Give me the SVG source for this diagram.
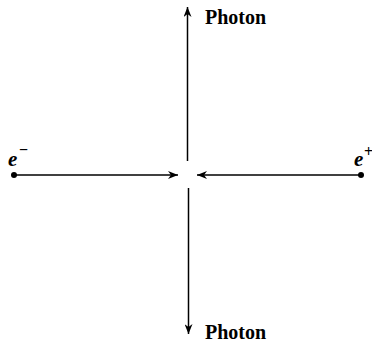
<svg xmlns="http://www.w3.org/2000/svg" width="372" height="345" viewBox="0 0 372 345">
<style>
.ln{stroke:#000;stroke-width:1.5;fill:none}
.lbl{font-family:"Liberation Serif",serif;font-weight:bold;font-size:20px;fill:#000}
.e{font-family:"Liberation Serif",serif;font-weight:bold;font-style:italic;font-size:21px;fill:#000}
.sup{font-family:"Liberation Serif",serif;font-weight:bold;font-size:16px;fill:#000}
</style>
<defs>
<marker id="ah" viewBox="0 0 10 8" refX="10" refY="4" markerWidth="10" markerHeight="8" markerUnits="userSpaceOnUse" orient="auto">
<path d="M0,0 L10,4 L0,8 L3,4 Z" fill="#000"/>
</marker>
</defs>
<g id="connectors">
<line class="ln" x1="14" y1="175" x2="178" y2="175" marker-end="url(#ah)"/>
<line class="ln" x1="361" y1="175" x2="197" y2="175" marker-end="url(#ah)"/>
<line class="ln" x1="187.5" y1="161" x2="187.5" y2="7" marker-end="url(#ah)"/>
<line class="ln" x1="188.5" y1="188" x2="188.5" y2="334" marker-end="url(#ah)"/>
</g>
<g id="e-minus">
<circle cx="14" cy="175" r="3" fill="#000"/>
<text class="e" x="8" y="166">e</text>
<text class="sup" x="19" y="155">−</text>
</g>
<g id="e-plus">
<circle cx="361" cy="175" r="3" fill="#000"/>
<text class="e" x="354" y="166">e</text>
<text class="sup" x="364" y="157">+</text>
</g>
<g id="photon-top">
<text class="lbl" x="205" y="24">Photon</text>
</g>
<g id="photon-bottom">
<text class="lbl" x="205" y="339">Photon</text>
</g>
</svg>
